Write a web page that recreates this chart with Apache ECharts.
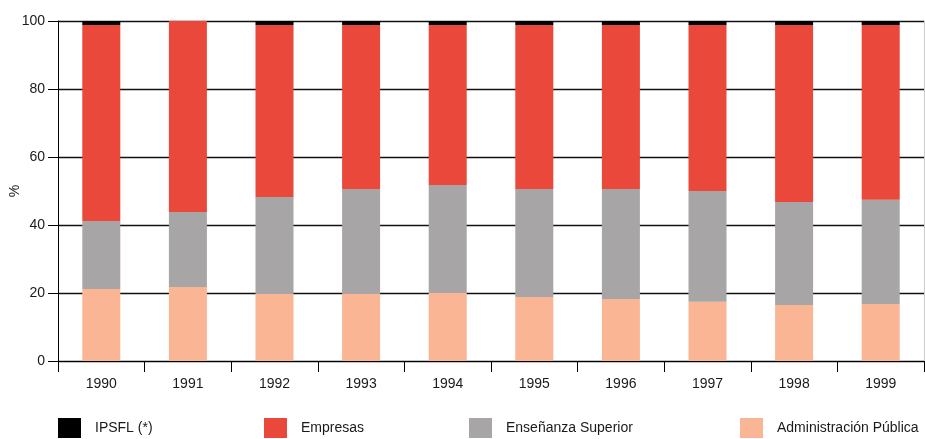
<!DOCTYPE html>
<html>
<head>
<meta charset="utf-8">
<script src="https://cdn.jsdelivr.net/npm/echarts@6/dist/echarts.min.js"></script>
<style>
html,body{margin:0;padding:0;background:#fff;}
#chart{width:925px;height:439px;}
</style>
</head>
<body>
<div id="chart"></div>
<script>
var years = ['1990','1991','1992','1993','1994','1995','1996','1997','1998','1999'];
var administracionPublica = [21.2, 21.8, 19.7, 19.7, 20.0, 18.8, 18.2, 17.4, 16.5, 16.8];
var ensenanzaSuperior = [20.0, 22.0, 28.5, 30.9, 31.8, 31.8, 32.4, 32.6, 30.3, 30.6];
var empresas = [57.6, 56.2, 50.6, 48.2, 47.0, 48.2, 48.2, 48.8, 52.0, 51.4];
var ipsfl = [1.2, 0, 1.2, 1.2, 1.2, 1.2, 1.2, 1.2, 1.2, 1.2];
var yTicks = [0, 20, 40, 60, 80, 100];
var legendNames = ['IPSFL (*)', 'Empresas', 'Enseñanza Superior', 'Administración Pública'];

var FONT = 'Liberation Sans';
var chart = echarts.init(document.getElementById('chart'));
function bar(name, data, color) {
  return {
    name: name, type: 'bar', stack: 'total', data: data, barWidth: 38,
    itemStyle: { color: color }, animation: false
  };
}
var legendLefts = [58, 264, 469, 740];
var legends = legendNames.map(function (n, i) {
  return {
    left: legendLefts[i], top: 418, padding: 0,
    itemWidth: 23, itemHeight: 20, icon: 'rect',
    data: [n],
    textStyle: { fontFamily: FONT, fontSize: 14, color: '#1a1a1a', padding: [0, 0, 0, 9] }
  };
});
chart.setOption({
  animation: false,
  grid: { left: 58, right: 1, top: 21, bottom: 78, containLabel: false, outerBoundsMode: 'none' },
  legend: legends,
  xAxis: {
    type: 'category', data: years,
    axisLine: { lineStyle: { color: '#000', width: 1 } },
    axisTick: { show: true, length: 11, lineStyle: { color: '#000' } },
    axisLabel: { fontFamily: FONT, fontSize: 14, color: '#1a1a1a', margin: 16 }
  },
  yAxis: [{
    type: 'value', min: 0, max: 100, interval: 20,
    name: '%', nameLocation: 'middle', nameGap: 36, nameRotate: 90, nameMoveOverlap: false,
    nameTextStyle: { fontFamily: FONT, fontSize: 14, color: '#1a1a1a' },
    axisLine: { show: true, lineStyle: { color: '#000', width: 1 } },
    axisTick: { show: true, length: 10, lineStyle: { color: '#000' } },
    axisLabel: { fontFamily: FONT, fontSize: 14, color: '#1a1a1a', margin: 13,
      formatter: function (v) { return yTicks.indexOf(v) >= 0 ? String(v) : ''; } },
    splitLine: { show: true, lineStyle: { color: '#111', width: 1.3 } }
  }, {
    type: 'value', position: 'right', min: 0, max: 100, interval: 20,
    axisLine: { show: true, lineStyle: { color: '#ccc' } },
    axisTick: { show: false }, axisLabel: { show: false }, splitLine: { show: false }
  }],
  series: [
    bar('Administración Pública', administracionPublica, '#FAB595'),
    bar('Enseñanza Superior', ensenanzaSuperior, '#A7A5A6'),
    bar('Empresas', empresas, '#E9483A'),
    bar('IPSFL (*)', ipsfl, '#000000')
  ]
});
</script>
</body>
</html>
